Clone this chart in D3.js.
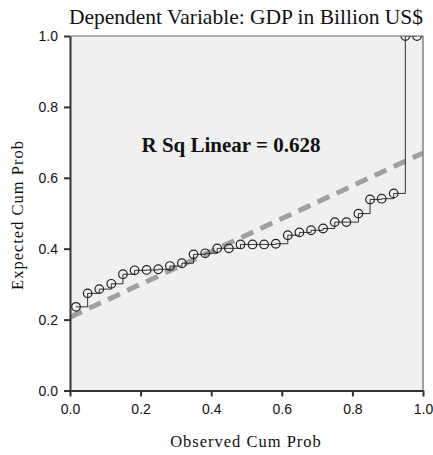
<!DOCTYPE html>
<html>
<head>
<meta charset="utf-8">
<script src="https://cdn.jsdelivr.net/npm/d3@7"></script>
<style>
  body { margin: 0; background: #fff; }
  svg text { fill: #111; }
</style>
</head>
<body>
<div id="chart"></div>
<script>
// observed cum prob (x) of the 30 cases
const observed = [
  0.017, 0.050, 0.083, 0.117, 0.150, 0.183, 0.217, 0.250, 0.283, 0.317,
  0.350, 0.383, 0.417, 0.450, 0.483, 0.517, 0.550, 0.583, 0.617, 0.650,
  0.683, 0.717, 0.750, 0.783, 0.817, 0.850, 0.883, 0.917, 0.950, 0.983
];
// expected cum prob (y)
const expected = [
  0.236, 0.274, 0.286, 0.301, 0.328, 0.339, 0.340, 0.342, 0.351, 0.359,
  0.384, 0.387, 0.401, 0.401, 0.412, 0.412, 0.412, 0.414, 0.438, 0.446,
  0.452, 0.457, 0.475, 0.475, 0.499, 0.539, 0.541, 0.556, 1.000, 1.000
];
// fit line end points at x = 0 and x = 1
const fitX = [0, 1];
const fitY = [0.207, 0.670];
const ticks = [0, 0.2, 0.4, 0.6, 0.8, 1.0];
const titleText = "Dependent Variable: GDP in Billion US$";
const rsqText = "R Sq Linear = 0.628";

const width = 433, height = 455;
const margin = { top: 36, right: 10, bottom: 65, left: 70 };
const innerW = 423 - margin.left, innerH = 390.5 - margin.top;
const serif = "Liberation Serif, Times New Roman, serif";

const svg = d3.select("#chart").append("svg")
  .attr("width", width).attr("height", height);

const g = svg.append("g")
  .attr("transform", `translate(${margin.left},${margin.top})`);

const x = d3.scaleLinear().domain([0, 1]).range([0, innerW]);
const y = d3.scaleLinear().domain([0, 1]).range([innerH, 0]);

// plot background
g.append("rect")
  .attr("width", innerW).attr("height", innerH)
  .attr("fill", "#f0f0f0");

svg.append("defs").append("clipPath").attr("id", "clip")
  .append("rect").attr("width", innerW).attr("height", innerH);

const plot = g.append("g").attr("clip-path", "url(#clip)");

// fit line
plot.append("line")
  .attr("x1", x(fitX[0])).attr("y1", y(fitY[0]))
  .attr("x2", x(fitX[1])).attr("y2", y(fitY[1]))
  .attr("stroke", "#a0a0a0")
  .attr("stroke-width", 5)
  .attr("stroke-dasharray", "13,8");

const pts = observed.map((o, i) => ({ o, e: expected[i] }));

// step line
const line = d3.line()
  .curve(d3.curveStepAfter)
  .x(d => x(d.o))
  .y(d => y(d.e));

plot.append("path")
  .datum(pts)
  .attr("fill", "none")
  .attr("stroke", "#333")
  .attr("stroke-width", 1)
  .attr("d", line);

plot.selectAll("circle.pt")
  .data(pts)
  .join("circle")
  .attr("class", "pt")
  .attr("cx", d => x(d.o))
  .attr("cy", d => y(d.e))
  .attr("r", 4.3)
  .attr("fill", "none")
  .attr("stroke", "#222")
  .attr("stroke-width", 1.2);

// frame top/right
g.append("path")
  .attr("d", `M0,0H${innerW}V${innerH}`)
  .attr("fill", "none")
  .attr("stroke", "#666")
  .attr("stroke-width", 1.2);

// axes
const fmt = d3.format(".1f");
const axX = g.append("g")
  .attr("transform", `translate(0,${innerH})`)
  .call(d3.axisBottom(x).tickValues(ticks).tickFormat(fmt).tickSize(6).tickSizeOuter(0));
const axY = g.append("g")
  .call(d3.axisLeft(y).tickValues(ticks).tickFormat(fmt).tickSize(6).tickSizeOuter(0));

[axX, axY].forEach(ax => {
  ax.select(".domain").attr("stroke", "#333").attr("stroke-width", 2);
  ax.selectAll(".tick line").attr("stroke", "#333").attr("stroke-width", 2);
  ax.selectAll(".tick text")
    .attr("font-family", "Liberation Sans, Arial, sans-serif")
    .attr("font-size", 14)
    .attr("fill", "#111");
});
axX.selectAll(".tick text").attr("dy", "1em").attr("y", 9);
axY.selectAll(".tick text").attr("x", -12).attr("dy", "0.35em");

// texts
svg.append("text")
  .attr("x", 246).attr("y", 24)
  .attr("text-anchor", "middle")
  .attr("font-family", serif)
  .attr("font-size", 21.5)
  .text(titleText);

g.append("text")
  .attr("x", 231 - margin.left).attr("y", 152 - margin.top)
  .attr("text-anchor", "middle")
  .attr("font-family", serif)
  .attr("font-weight", "bold")
  .attr("font-size", 21)
  .text(rsqText);

svg.append("text")
  .attr("x", 246).attr("y", 447)
  .attr("text-anchor", "middle")
  .attr("font-family", serif)
  .attr("font-size", 16.5)
  .attr("letter-spacing", 1)
  .text("Observed Cum Prob");

svg.append("text")
  .attr("transform", `translate(23,215) rotate(-90)`)
  .attr("text-anchor", "middle")
  .attr("font-family", serif)
  .attr("font-size", 16.5)
  .attr("letter-spacing", 1)
  .text("Expected Cum Prob");
</script>
</body>
</html>
